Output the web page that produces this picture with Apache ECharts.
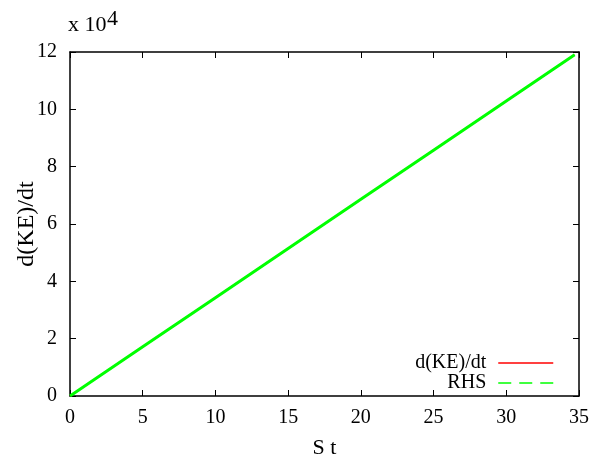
<!DOCTYPE html>
<html><head><meta charset="utf-8">
<script src="https://cdn.jsdelivr.net/npm/echarts@6/dist/echarts.min.js"></script>
<style>html,body{margin:0;padding:0;background:#fff}#c{width:596px;height:461px}</style>
</head><body><div id="c"></div>
<script>
// Data (y in raw units; axis shows x 10^4)
const tValues = [0, 5, 10, 15, 20, 25, 30, 34.7];
const dKEdt = [0, 17150, 34300, 51450, 68600, 85750, 102900, 119000];
const rhs   = [0, 17150, 34300, 51450, 68600, 85750, 102900, 119000];
const seriesNames = ['d(KE)/dt', 'RHS'];
const xTicks = [0, 5, 10, 15, 20, 25, 30, 35];
const yTicks = [0, 2, 4, 6, 8, 10, 12];
const yScale = 1e4;

const font = 'Liberation Serif';
const chart = echarts.init(document.getElementById('c'), null, {renderer: 'canvas'});
const pair = (xs, ys) => xs.map((x, i) => [x, ys[i]]);
const axisCommon = {
  axisLine: {show: true, onZero: false, lineStyle: {color: '#000', width: 1.5}},
  axisTick: {show: true, inside: true, length: 6, lineStyle: {color: '#000', width: 1}},
  splitLine: {show: false}
};
chart.setOption({
  animation: false,
  textStyle: {fontFamily: font},
  grid: {left: 70, right: 17, top: 52, bottom: 65, containLabel: false, outerBoundsMode: 'none'},
  xAxis: [
    Object.assign({type: 'value', min: xTicks[0], max: xTicks[xTicks.length-1], interval: 5,
      name: 'S t', nameLocation: 'middle', nameGap: 41, nameMoveOverlap: false,
      nameTextStyle: {fontFamily: font, fontSize: 22, color: '#000'},
      axisLabel: {fontFamily: font, fontSize: 20, color: '#000', margin: 12}}, axisCommon),
    Object.assign({type: 'value', position: 'top', min: xTicks[0], max: xTicks[xTicks.length-1], interval: 5,
      axisLabel: {show: false}}, axisCommon)
  ],
  yAxis: [
    Object.assign({type: 'value', min: yTicks[0]*yScale, max: yTicks[yTicks.length-1]*yScale, interval: 2*yScale,
      name: 'd(KE)/dt', nameLocation: 'middle', nameGap: 31, nameRotate: 90, nameMoveOverlap: false,
      nameTextStyle: {fontFamily: font, fontSize: 24, color: '#000'},
      axisLabel: {fontFamily: font, fontSize: 20, color: '#000', margin: 13,
        formatter: v => String(Math.round(v / yScale))}}, axisCommon),
    Object.assign({type: 'value', position: 'right', min: yTicks[0]*yScale, max: yTicks[yTicks.length-1]*yScale, interval: 2*yScale,
      axisLabel: {show: false}}, axisCommon)
  ],
  legend: {
    orient: 'vertical', right: 37, top: 348, align: 'right',
    itemWidth: 55, itemHeight: 20, itemGap: 0,
    textStyle: {fontFamily: font, fontSize: 20, color: '#000', padding: [0, 7, 0, 0]},
    data: [
      {name: seriesNames[0], itemStyle: {opacity: 0}, lineStyle: {color: '#ff0000', width: 1.5, type: 'solid'}},
      {name: seriesNames[1], itemStyle: {opacity: 0}, lineStyle: {color: '#00ff00', width: 1.5, type: [13, 8]}}
    ]
  },
  series: [
    {name: seriesNames[0], type: 'line', data: pair(tValues, dKEdt), showSymbol: false, symbol: 'none',
      lineStyle: {color: '#ff0000', width: 1.5}, itemStyle: {color: '#ff0000'}, z: 2},
    {name: seriesNames[1], type: 'line', data: pair(tValues, rhs), showSymbol: false, symbol: 'none',
      lineStyle: {color: '#00ff00', width: 3}, itemStyle: {color: '#00ff00'}, z: 3}
  ],
  graphic: [
    {type: 'text', left: 68, top: 14, style: {text: 'x 10', fontFamily: font, fontSize: 22, fill: '#000'}},
    {type: 'text', left: 107, top: 8, style: {text: '4', fontFamily: font, fontSize: 22, fill: '#000'}}
  ]
});
</script></body></html>
